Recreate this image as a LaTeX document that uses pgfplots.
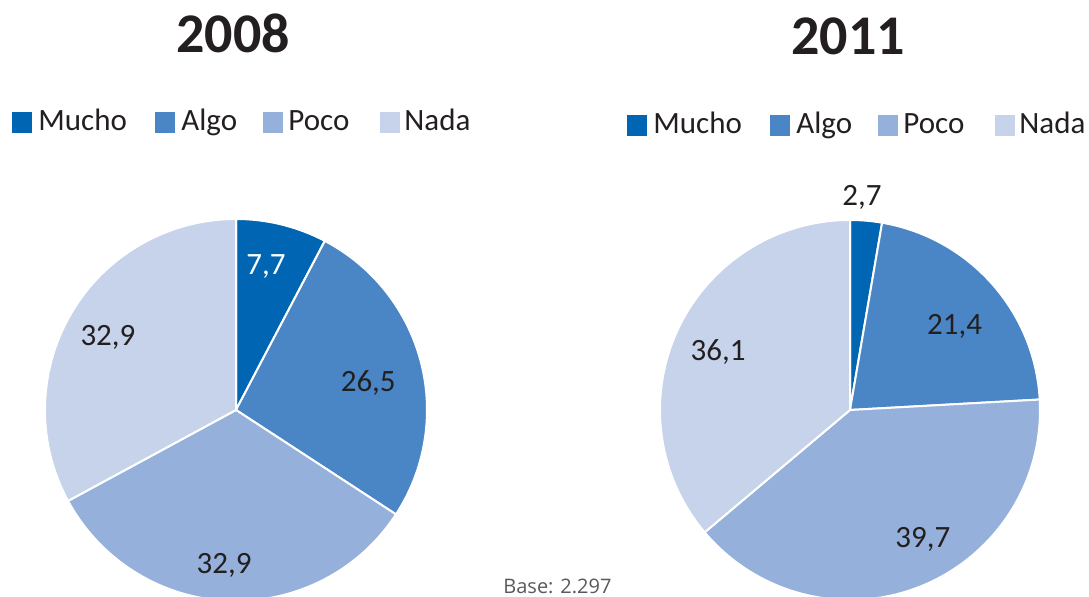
\documentclass[border=0pt]{standalone}
\usepackage{pgfplots}
\pgfplotsset{compat=1.18}
\usepackage{pgfplotstable}
\usepackage{fontspec}
\setmainfont{Carlito}
\newfontfamily\basefont{Open Sans}
\definecolor{cMucho}{HTML}{0066B3}
\definecolor{cAlgo}{HTML}{4A86C6}
\definecolor{cPoco}{HTML}{95B1DB}
\definecolor{cNada}{HTML}{C6D3EA}
\definecolor{ctext}{HTML}{231F20}
\definecolor{cbase}{HTML}{595959}

% value in %, label angle (deg) and label distance from centre (px)
\pgfplotstableread{
cat   value langle ldist
Mucho 7.7   78.2   147
Algo  26.5  11.6   135
Poco  32.9  -94.4  156
Nada  32.9  150.6  147
}\pieA
\pgfplotstableread{
cat   value langle ldist
Mucho 2.7   86.8   213
Algo  21.4  38.7   134
Poco  39.7  -60.7  149
Nada  36.1  156.3  144
}\pieB

\newcommand\preparepie[2]{%
  \gdef\psum{0}%
  \foreach \i in {0,...,3}{%
    \pgfplotstablegetelem{\i}{value}\of#1%
    \pgfmathsetmacro\ptmp{\psum+\pgfplotsretval}\xdef\psum{\ptmp}}%
  \gdef\pcum{0}%
  \foreach \i in {0,...,3}{%
    \pgfplotstablegetelem{\i}{value}\of#1\let\pv\pgfplotsretval
    \pgfmathsetmacro\ps{90-\pcum/\psum*360}%
    \pgfmathsetmacro\pc{\pcum+\pv}%
    \pgfmathsetmacro\pe{90-\pc/\psum*360}%
    \xdef\pcum{\pc}%
    \expandafter\xdef\csname #2s\i\endcsname{\ps}%
    \expandafter\xdef\csname #2e\i\endcsname{\pe}%
    \expandafter\xdef\csname #2v\i\endcsname{\pv}%
    \pgfplotstablegetelem{\i}{langle}\of#1%
    \expandafter\xdef\csname #2a\i\endcsname{\pgfplotsretval}%
    \pgfplotstablegetelem{\i}{ldist}\of#1%
    \pgfmathsetmacro\pd{0.5*\pgfplotsretval}%
    \expandafter\xdef\csname #2d\i\endcsname{\pd pt}%
  }}
\preparepie{\pieA}{A}
\preparepie{\pieB}{B}

\newcommand\A[2]{\csname #1#2\endcsname}
% centre x, centre y, radius, prefix, index, colour
\newcommand\slice[6]{%
  \fill[#6, draw=white, line width=1pt, line join=round]
    (axis cs:#1,#2) -- ++(\A{#4s}{#5}:#3)
    arc[start angle=\A{#4s}{#5}, end angle=\A{#4e}{#5}, radius=#3] -- cycle;}
\newcommand\plabel[5]{% cx cy prefix index colour
  \path (axis cs:#1,#2) ++(\A{#3a}{#4}:\A{#3d}{#4})
    node[anchor=center, inner sep=0pt, text=#5, font=\fontsize{15.5}{18}\selectfont]
    {\pgfmathprintnumber[fixed, fixed zerofill, precision=1, use comma, assume math mode=true]{\A{#3v}{#4}}};}
\newcommand\legendrow[2]{% x offset, y (bottom of square)
  \fill[cMucho] (axis cs:#1+12,#2) rectangle (axis cs:#1+32,#2+21);
  \fill[cAlgo]  (axis cs:#1+155,#2) rectangle (axis cs:#1+175,#2+21);
  \fill[cPoco]  (axis cs:#1+263,#2) rectangle (axis cs:#1+283,#2+21);
  \fill[cNada]  (axis cs:#1+380,#2) rectangle (axis cs:#1+400,#2+21);
  \node[anchor=base west, inner sep=0pt, text=ctext, font=\fontsize{15.5}{18}\selectfont] at (axis cs:#1+38,#2+2.5) {Mucho};
  \node[anchor=base west, inner sep=0pt, text=ctext, font=\fontsize{15.5}{18}\selectfont] at (axis cs:#1+181,#2+2.5) {Algo};
  \node[anchor=base west, inner sep=0pt, text=ctext, font=\fontsize{15.5}{18}\selectfont] at (axis cs:#1+288,#2+2.5) {Poco};
  \node[anchor=base west, inner sep=0pt, text=ctext, font=\fontsize{15.5}{18}\selectfont] at (axis cs:#1+404,#2+2.5) {Nada};
}

\begin{document}
\begin{tikzpicture}
\begin{axis}[
  hide axis, x=0.5pt, y=0.5pt,
  xmin=0, xmax=1089, ymin=0, ymax=597,
  clip=true,
]
  \coordinate (SW) at (rel axis cs:0,0);
  \coordinate (NE) at (rel axis cs:1,1);
  % pie 2008
  \slice{236}{187}{95.5pt}{A}{0}{cMucho}
  \slice{236}{187}{95.5pt}{A}{1}{cAlgo}
  \slice{236}{187}{95.5pt}{A}{2}{cPoco}
  \slice{236}{187}{95.5pt}{A}{3}{cNada}
  \plabel{236}{187}{A}{0}{white}
  \plabel{236}{187}{A}{1}{ctext}
  \plabel{236}{187}{A}{2}{ctext}
  \plabel{236}{187}{A}{3}{ctext}
  % pie 2011
  \slice{850}{187}{95pt}{B}{0}{cMucho}
  \slice{850}{187}{95pt}{B}{1}{cAlgo}
  \slice{850}{187}{95pt}{B}{2}{cPoco}
  \slice{850}{187}{95pt}{B}{3}{cNada}
  \plabel{850}{187}{B}{0}{ctext}
  \plabel{850}{187}{B}{1}{ctext}
  \plabel{850}{187}{B}{2}{ctext}
  \plabel{850}{187}{B}{3}{ctext}
  % titles
  \node[anchor=base, inner sep=0pt, text=ctext, font=\fontsize{28}{32}\selectfont\bfseries] at (axis cs:233,544) {2008};
  \node[anchor=base, inner sep=0pt, text=ctext, font=\fontsize{28}{32}\selectfont\bfseries] at (axis cs:848,542) {2011};
  % legends
  \legendrow{0}{464}
  \legendrow{615}{461}
  % base
  \node[anchor=base west, inner sep=0pt, text=cbase, font=\basefont\fontsize{10}{12}\selectfont] at (axis cs:503,3) {Base: 2.297};
\end{axis}
\pgfresetboundingbox
\useasboundingbox (SW) rectangle (NE);
\end{tikzpicture}
\end{document}
